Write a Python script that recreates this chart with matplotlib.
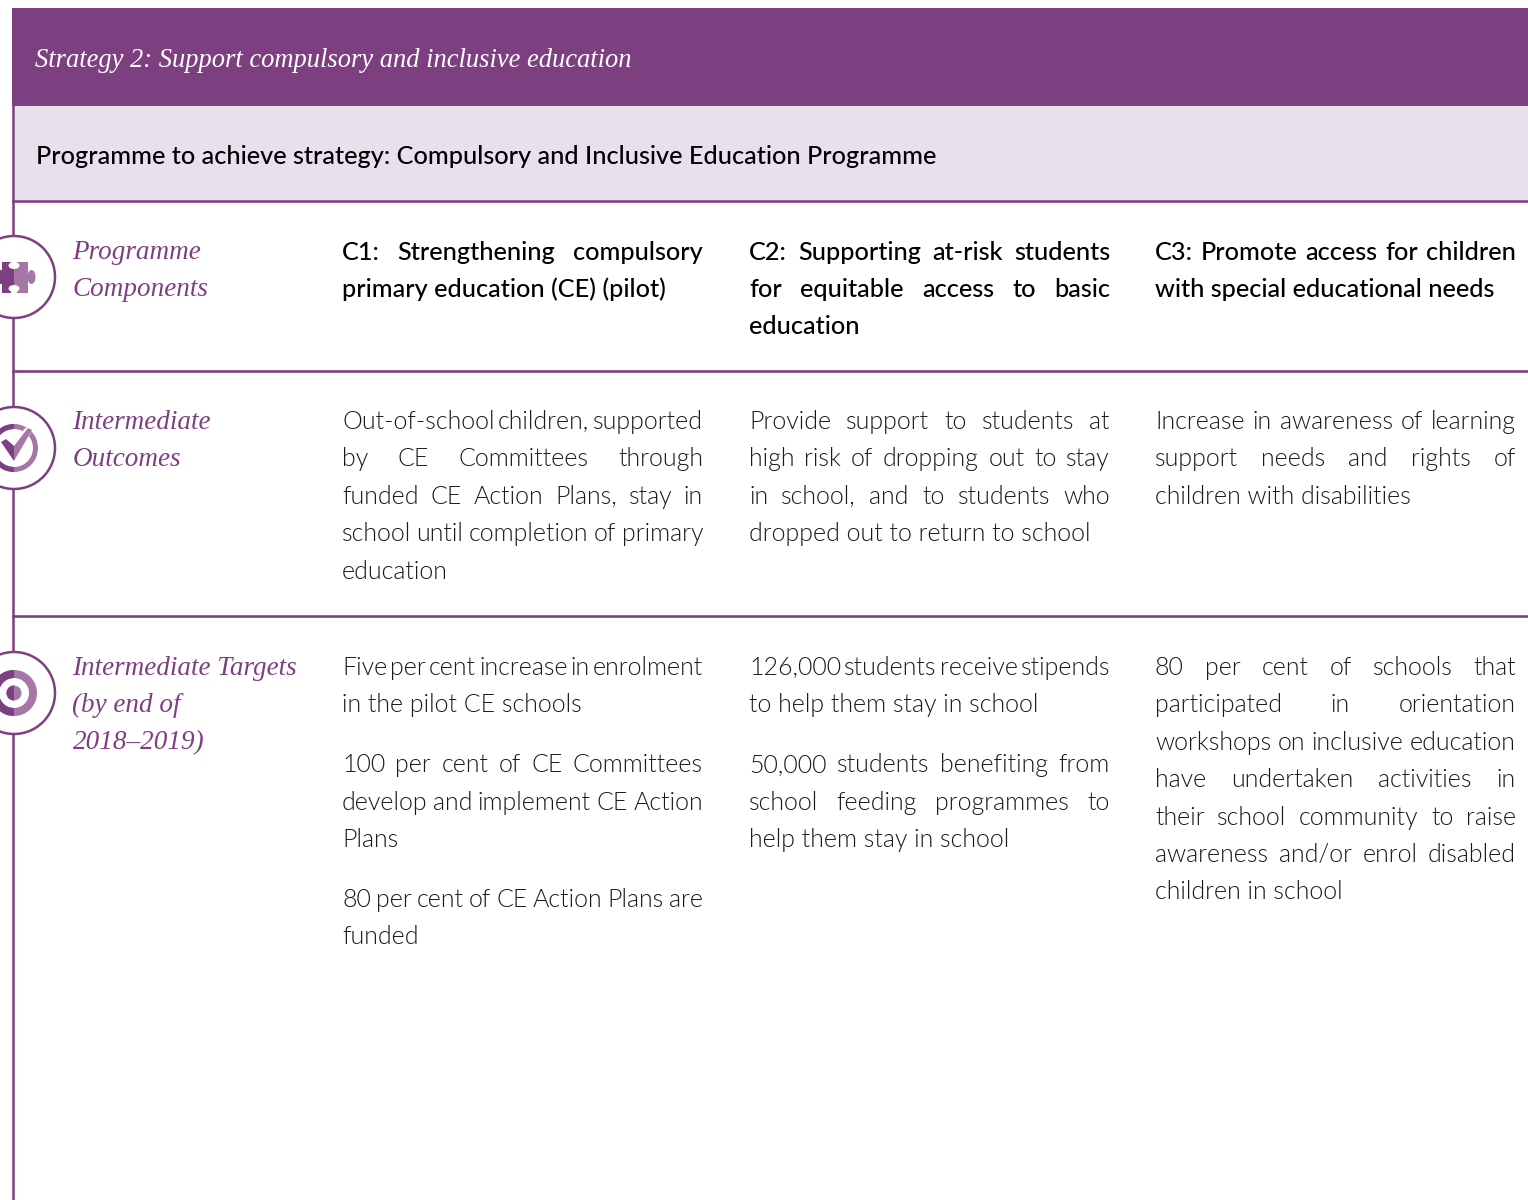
import matplotlib
matplotlib.use('Agg')
import matplotlib.pyplot as plt
from matplotlib.patches import Rectangle, Circle, Ellipse, Wedge, Polygon

# Text of the table
strategy_title = 'Strategy 2: Support compulsory and inclusive education'
programme_title = 'Programme to achieve strategy: Compulsory and Inclusive Education Programme'

row_labels = [
    ['Programme', 'Components'],
    ['Intermediate', 'Outcomes'],
    ['Intermediate Targets', '(by end of', '2018\u20132019)'],
]

components = [
    [['C1: Strengthening compulsory', 'primary education (CE) (pilot)']],
    [['C2: Supporting at-risk students', 'for equitable access to basic', 'education']],
    [['C3: Promote access for children', 'with special educational needs']],
]

outcomes = [
    [['Out-of-school children, supported', 'by CE Committees through',
      'funded CE Action Plans, stay in', 'school until completion of primary', 'education']],
    [['Provide support to students at', 'high risk of dropping out to stay',
      'in school, and to students who', 'dropped out to return to school']],
    [['Increase in awareness of learning', 'support needs and rights of',
      'children with disabilities']],
]

targets = [
    [['Five per cent increase in enrolment', 'in the pilot CE schools'],
     ['100 per cent of CE Committees', 'develop and implement CE Action', 'Plans'],
     ['80 per cent of CE Action Plans are', 'funded']],
    [['126,000 students receive stipends', 'to help them stay in school'],
     ['50,000 students benefiting from', 'school feeding programmes to', 'help them stay in school']],
    [['80 per cent of schools that', 'participated in orientation',
      'workshops on inclusive education', 'have undertaken activities in',
      'their school community to raise', 'awareness and/or enrol disabled', 'children in school']],
]

PURPLE = '#7e3f80'
LIGHT = '#a477a6'
PALE = '#e8e0ec'
COL_X = [342, 749, 1155]
COL_W = 361
LINE_H = 37.4
BODY = 'Lato'
SLAB = 'Liberation Serif'

fig = plt.figure(figsize=(15.28, 12), dpi=100)
ax = fig.add_axes([0, 0, 1, 1])
ax.set_xlim(0, 1528)
ax.set_ylim(1200, 0)
ax.axis('off')
renderer = fig.canvas.get_renderer()


def text_width(s, **kw):
    t = ax.text(0, 0, s, **kw)
    w = t.get_window_extent(renderer).width
    t.remove()
    return w


def draw_line(x, y, line, justify, **kw):
    if not justify:
        ax.text(x, y, line, va='baseline', **kw)
        return
    words = line.split(' ')
    widths = [text_width(w, **kw) for w in words]
    gap = (COL_W - sum(widths)) / (len(words) - 1)
    for w, wd in zip(words, widths):
        ax.text(x, y, w, va='baseline', **kw)
        x += wd + gap


def draw_cell(x, y, paragraphs, **kw):
    for para in paragraphs:
        for i, line in enumerate(para):
            draw_line(x, y, line, i < len(para) - 1, **kw)
            y += LINE_H
        y += 22.5


# Bands and rules
ax.add_patch(Rectangle((12, 8), 1516, 98, color=PURPLE, lw=0))
ax.add_patch(Rectangle((14, 106), 1514, 94, color=PALE, lw=0))
ax.plot([13, 13], [106, 1200], color=PURPLE, lw=1.8)
for y in [201, 371, 616]:
    ax.plot([13, 1528], [y, y], color=PURPLE, lw=1.9)

ax.text(35, 67, strategy_title, color='white', style='italic', family=SLAB, fontsize=19.1, va='baseline')
ax.text(36, 163.5, programme_title, color='black', family=BODY, fontsize=18.15, weight='medium', va='baseline')

# Icons
for cy in [277, 448, 693]:
    ax.add_patch(Circle((14, cy), 41, fc='white', ec=PURPLE, lw=1.8, zorder=3))

half = Rectangle((0, 0), 14, 1200, transform=ax.transData)

cy = 277
for color, clip in [(LIGHT, False), (PURPLE, True)]:
    parts = [Rectangle((1.5, cy - 15.5), 26.5, 31, color=color, lw=0, zorder=4),
             Ellipse((1, cy), 6, 14, color=color, lw=0, zorder=4),
             Ellipse((31.5, cy), 8, 14, color=color, lw=0, zorder=4),
             Rectangle((27, cy - 3), 4, 6, color=color, lw=0, zorder=4)]
    for p in parts:
        ax.add_patch(p)
        if clip:
            p.set_clip_path(half)
for dy in [-11.5, 11.5]:
    ax.add_patch(Ellipse((14, cy + dy), 11, 7, color='white', lw=0, zorder=5))
    ax.add_patch(Rectangle((11, cy + dy - 4 if dy < 0 else cy + dy), 6, 4, color='white', lw=0, zorder=5))

cy = 448
for color, clip in [(LIGHT, False), (PURPLE, True)]:
    parts = [Wedge((14, cy), 24, 0, 360, width=5, color=color, lw=0, zorder=4)]
    for p in parts:
        ax.add_patch(p)
        if clip:
            p.set_clip_path(half)
ax.add_patch(Polygon([[24, cy - 19], [35, cy - 24], [15, cy + 16], [10, cy + 14]], color='white', lw=0, zorder=5))
ax.add_patch(Polygon([[14, cy - 2], [28, cy - 20], [32, cy - 18], [14, cy + 13]], color=LIGHT, lw=0, zorder=6))
check = Polygon([[1, cy - 6], [6, cy - 9], [14, cy - 2], [14, cy + 13]], color=PURPLE, lw=0, zorder=6)
ax.add_patch(check)

cy = 693
for color, clip in [(LIGHT, False), (PURPLE, True)]:
    parts = [Wedge((14, cy), 23, 0, 360, width=8, color=color, lw=0, zorder=4),
             Circle((14, cy), 7.5, color=color, lw=0, zorder=4)]
    for p in parts:
        ax.add_patch(p)
        if clip:
            p.set_clip_path(half)

# Row labels
for labels, y0 in zip(row_labels, [259, 429, 675]):
    for i, s in enumerate(labels):
        ax.text(72.5, y0 + i * 37, s, color=PURPLE, style='italic', family=SLAB, fontsize=19.5, va='baseline')

# Columns
for x, cell in zip(COL_X, components):
    draw_cell(x, 259.5, cell, family=BODY, fontsize=18.15, weight='medium', color='black')
for x, cell in zip(COL_X, outcomes):
    draw_cell(x, 429, cell, family=BODY, fontsize=18.0, weight=300, color='#1a1a1a')
for x, cell in zip(COL_X, targets):
    draw_cell(x, 675, cell, family=BODY, fontsize=18.0, weight=300, color='#1a1a1a')

fig.savefig('out.png', dpi=100)
